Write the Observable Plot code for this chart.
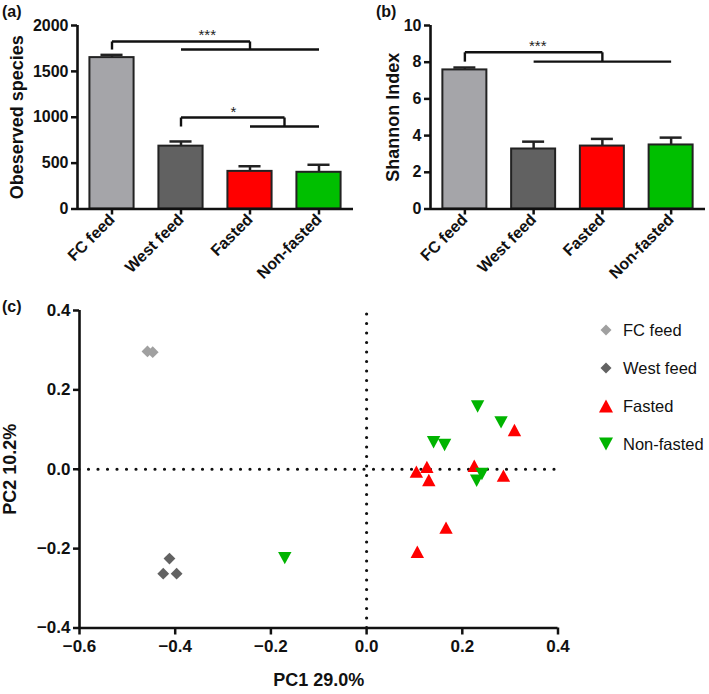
<!DOCTYPE html>
<html><head><meta charset="utf-8">
<script src="https://cdn.jsdelivr.net/npm/d3@7"></script>
<script src="https://cdn.jsdelivr.net/npm/@observablehq/plot@0.6"></script>
<style>
body{margin:0;background:#fff;}
#root{position:relative;width:709px;height:694px;font-family:"Liberation Sans",Arial,sans-serif;overflow:hidden;}
.panel{position:absolute;}
.tag{position:absolute;font-weight:bold;font-size:16px;color:#111;}
.legend{position:absolute;left:596px;top:311px;font-size:16.5px;color:#111;}
.legend .row{display:flex;align-items:center;height:38px;}
.legend svg{margin-right:5px;}
</style></head><body><div id="root"></div>
<script>
// ---------- data ----------
const groups = ["FC feed", "West feed", "Fasted", "Non-fasted"];
const barColors = ["#a5a5a9", "#616161", "#ff0000", "#00bf00"];
const observedMean = [1650, 685, 410, 400];
const observedSem = [30, 51, 56, 82];
const shannonMean = [7.58, 3.27, 3.43, 3.49];
const shannonSem = [0.13, 0.40, 0.39, 0.40];
const observedTicks = [0, 500, 1000, 1500, 2000];
const shannonTicks = [0, 2, 4, 6, 8, 10];
// significance brackets (group index units / data units)
const observedSig = [
  {left: 0, spanFrom: 1, spanTo: 3, top: 1826, base: 1738, label: "***", labelX: 1.38},
  {left: 1, spanFrom: 2, spanTo: 3, top: 997, base: 899, label: "*", labelX: 1.76}
];
const shannonSig = [
  {left: 0, spanFrom: 1, spanTo: 3, top: 8.54, base: 8.03, label: "***", labelX: 1.06}
];
// PCoA
const pcGroups = ["FC feed", "West feed", "Fasted", "Non-fasted"];
const pcColors = ["#a0a0a0", "#626262", "#ff0000", "#00b400"];
const fcFeedPC1 = [-0.458, -0.447];
const fcFeedPC2 = [0.297, 0.295];
const westFeedPC1 = [-0.412, -0.425, -0.397];
const westFeedPC2 = [-0.225, -0.263, -0.263];
const fastedPC1 = [0.104, 0.126, 0.130, 0.225, 0.286, 0.309, 0.166, 0.106];
const fastedPC2 = [-0.006, 0.006, -0.027, 0.009, -0.016, 0.099, -0.147, -0.208];
const nonFastedPC1 = [0.232, 0.281, 0.140, 0.163, 0.241, 0.230, -0.171];
const nonFastedPC2 = [0.158, 0.118, 0.068, 0.061, -0.012, -0.029, -0.224];
const pcXTicks = [-0.6, -0.4, -0.2, 0.0, 0.2, 0.4];
const pcYTicks = [-0.4, -0.2, 0.0, 0.2, 0.4];

// ---------- symbols ----------
const diamond = {draw(ctx, size) { const r = Math.sqrt(size / Math.PI); ctx.moveTo(0, -r); ctx.lineTo(r, 0); ctx.lineTo(0, r); ctx.lineTo(-r, 0); ctx.closePath(); }};
const triUp = {draw(ctx, size) { const r = Math.sqrt(size / Math.PI); ctx.moveTo(0, -r); ctx.lineTo(1.08 * r, r); ctx.lineTo(-1.08 * r, r); ctx.closePath(); }};
const triDown = {draw(ctx, size) { const r = Math.sqrt(size / Math.PI); ctx.moveTo(0, r); ctx.lineTo(1.08 * r, -r); ctx.lineTo(-1.08 * r, -r); ctx.closePath(); }};
const pcSymbols = [diamond, diamond, triUp, triDown];

const root = document.getElementById("root");
const FONT = '"Liberation Sans", Arial, sans-serif';

function place(el, left, top) {
  el.classList.add("panel");
  el.style.left = left + "px";
  el.style.top = top + "px";
  root.appendChild(el);
}

function barPanel({means, sems, ticks, sig, ylabel, width, height, marginLeft, marginRight, labelDx}) {
  const yMax = ticks[ticks.length - 1];
  const data = groups.map((g, i) => ({i, g, mean: means[i], top: means[i] + sems[i], color: barColors[i]}));
  const hw = 0.32;
  const segs = [];
  for (const s of sig) {
    const mid = (s.spanFrom + s.spanTo) / 2;
    segs.push({x1: s.left, y1: s.base, x2: s.left, y2: s.top});
    segs.push({x1: s.left, y1: s.top, x2: mid, y2: s.top});
    segs.push({x1: mid, y1: s.top, x2: mid, y2: s.base});
    segs.push({x1: s.spanFrom, y1: s.base, x2: s.spanTo, y2: s.base});
  }
  return Plot.plot({
    width, height, marginLeft, marginRight, marginTop: 25, marginBottom: height - 208.5,
    style: {fontFamily: FONT, color: "#111", background: "transparent", overflow: "visible"},
    x: {domain: [-0.5, 3.5], axis: null},
    y: {domain: [0, yMax], axis: null},
    marks: [
      Plot.axisY({ticks, tickFormat: d => String(d), tickSize: 6, tickPadding: 3, strokeWidth: 2.5, fontSize: 16, fontWeight: "bold", label: null}),
      Plot.axisX({ticks: [0, 1, 2, 3], tickFormat: i => groups[i], tickRotate: -45, tickSize: 6, tickPadding: 2, strokeWidth: 2.5, fontSize: 16, fontWeight: "bold", label: null}),
      Plot.text([ylabel], {text: d => d, frameAnchor: "left", textAnchor: "middle", lineAnchor: "middle", rotate: -90, dx: labelDx, fontSize: 18, fontWeight: "bold"}),
      // error bars (upper only)
      Plot.ruleX(data, {x: "i", y1: "mean", y2: "top", strokeWidth: 2.5, stroke: "#222"}),
      Plot.ruleY(data, {y: "top", x1: d => d.i - hw / 2, x2: d => d.i + hw / 2, strokeWidth: 2.5, stroke: "#222"}),
      // bars
      Plot.rectY(data, {x1: d => d.i - hw, x2: d => d.i + hw, y1: 0, y2: "mean", fill: "color", stroke: "#222", strokeWidth: 2}),
      // axes lines
      Plot.ruleX([-0.5], {y1: 0, y2: yMax, strokeWidth: 2.6, stroke: "#111"}),
      Plot.ruleY([0], {x1: -0.5, x2: 3.5, strokeWidth: 2.6, stroke: "#111"}),
      // significance
      Plot.link(segs, {x1: "x1", y1: "y1", x2: "x2", y2: "y2", strokeWidth: 2.4, stroke: "#111"}),
      Plot.text(sig, {x: "labelX", y: "top", text: "label", lineAnchor: "bottom", dy: -1, fontSize: 15, fill: "#222"})
    ]
  });
}

place(barPanel({means: observedMean, sems: observedSem, ticks: observedTicks, sig: observedSig,
  ylabel: "Obeserved species", width: 355, height: 290, marginLeft: 77, marginRight: 2, labelDx: -60}), 0, 0);
place(barPanel({means: shannonMean, sems: shannonSem, ticks: shannonTicks, sig: shannonSig,
  ylabel: "Shannon Index", width: 354, height: 290, marginLeft: 75, marginRight: 4, labelDx: -37}), 355, 0);

// ---------- PCoA ----------
const pcData = [];
[[fcFeedPC1, fcFeedPC2], [westFeedPC1, westFeedPC2], [fastedPC1, fastedPC2], [nonFastedPC1, nonFastedPC2]]
  .forEach(([xs, ys], gi) => xs.forEach((x, k) => pcData.push({group: pcGroups[gi], gi, x, y: ys[k]})));

const fmt = d3.format(".1f");
const pc = Plot.plot({
  width: 709, height: 404, marginLeft: 79, marginRight: 151.5, marginTop: 20, marginBottom: 66.5,
  style: {fontFamily: FONT, color: "#111", background: "transparent"},
  x: {domain: [-0.6, 0.4], axis: null},
  y: {domain: [-0.4, 0.4], axis: null},
  marks: [
    Plot.axisY({ticks: pcYTicks, tickFormat: fmt, tickSize: 6, tickPadding: 3, strokeWidth: 2.5, fontSize: 17, fontWeight: "bold", label: null}),
    Plot.axisX({ticks: pcXTicks, tickFormat: fmt, tickSize: 7, tickPadding: 5, strokeWidth: 2.5, fontSize: 17, fontWeight: "bold", label: null}),
    Plot.text(["PC2 10.2%"], {text: d => d, frameAnchor: "left", textAnchor: "middle", lineAnchor: "middle", rotate: -90, dx: -69, fontSize: 18, fontWeight: "bold"}),
    Plot.text(["PC1 29.0%"], {text: d => d, frameAnchor: "bottom", lineAnchor: "middle", dy: 52, fontSize: 18, fontWeight: "bold"}),
    Plot.ruleX([0], {y1: -0.4, y2: 0.4, stroke: "#111", strokeWidth: 3.2, strokeDasharray: "0,9.5", strokeLinecap: "round"}),
    Plot.ruleY([0], {x1: -0.6, x2: 0.4, stroke: "#111", strokeWidth: 3.2, strokeDasharray: "0,9.5", strokeLinecap: "round"}),
    Plot.ruleX([-0.6], {y1: -0.4, y2: 0.4, strokeWidth: 2.6, stroke: "#111"}),
    Plot.ruleY([-0.4], {x1: -0.6, x2: 0.4, strokeWidth: 2.6, stroke: "#111"}),
    ...pcGroups.map((g, gi) => Plot.dot(pcData.filter(d => d.gi === gi), {x: "x", y: "y", r: gi < 2 ? 5.9 : 6.2, symbol: pcSymbols[gi], fill: pcColors[gi], stroke: "none"}))
  ]
});
place(pc, 0, 290);

// ---------- tags ----------
[["(a)", 2, 3], ["(b)", 376, 3], ["(c)", 2, 298]].forEach(([t, l, tp]) => {
  const d = document.createElement("div"); d.className = "tag"; d.textContent = t;
  d.style.left = l + "px"; d.style.top = tp + "px"; root.appendChild(d);
});

// ---------- legend ----------
const legend = document.createElement("div"); legend.className = "legend";
pcGroups.forEach((g, gi) => {
  const row = document.createElement("div"); row.className = "row";
  const svg = d3.create("svg").attr("width", 22).attr("height", 20);
  svg.append("path").attr("transform", "translate(10,10)")
    .attr("d", d3.symbol(pcSymbols[gi], Math.PI * (gi < 2 ? 5.5 : 6.5) ** 2)())
    .attr("fill", pcColors[gi]);
  row.appendChild(svg.node());
  const s = document.createElement("span"); s.textContent = g; row.appendChild(s);
  legend.appendChild(row);
});
root.appendChild(legend);
</script></body></html>
